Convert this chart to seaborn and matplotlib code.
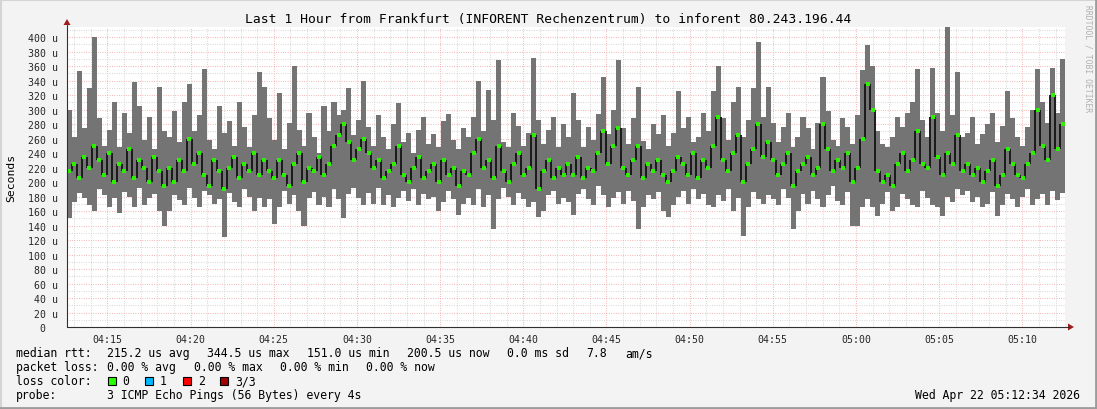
import numpy as np
import pandas as pd
import seaborn as sns
import matplotlib.pyplot as plt
from matplotlib.patches import Rectangle, Polygon
from matplotlib.lines import Line2D

W, H = 1097, 410

# time axis in minutes after 04:00, one column per 18 s
t_start = 12 + 34 / 60
step = 0.3

rtt_max = [300, 262, 353, 275, 330, 400, 288, 250, 272, 310, 248, 295, 268, 338, 305, 258, 290, 246, 331, 270,
           262, 298, 255, 310, 335, 270, 292, 356, 258, 245, 305, 268, 284, 250, 310, 276, 248, 292, 352, 331,
           288, 258, 323, 246, 282, 360, 272, 250, 295, 262, 240, 305, 270, 310, 292, 300, 330, 265, 285, 339,
           276, 250, 292, 262, 245, 280, 309, 255, 268, 240, 272, 290, 252, 266, 248, 284, 294, 258, 246, 275,
           262, 290, 339, 270, 327, 285, 368, 255, 248, 296, 278, 250, 268, 371, 286, 252, 272, 290, 248, 280,
           262, 323, 285, 248, 276, 258, 294, 345, 266, 300, 368, 275, 252, 288, 331, 256, 245, 280, 266, 292,
           250, 268, 326, 274, 290, 255, 262, 296, 270, 326, 360, 288, 258, 310, 331, 262, 285, 330, 393, 290,
           331, 282, 255, 276, 296, 248, 262, 290, 274, 246, 282, 345, 298, 258, 250, 288, 276, 252, 292, 354,
           389, 360, 270, 252, 248, 262, 290, 276, 295, 310, 356, 285, 262, 357, 296, 270, 414, 292, 352, 262,
           268, 290, 252, 266, 280, 295, 255, 278, 325, 288, 262, 250, 276, 300, 356, 310, 282, 357, 296, 370]
rtt_min = [150, 172, 185, 178, 168, 160, 190, 182, 165, 178, 158, 186, 180, 165, 192, 168, 178, 184, 160, 139,
           160, 182, 175, 168, 192, 178, 165, 188, 182, 170, 176, 124, 185, 172, 165, 190, 180, 160, 178, 165,
           176, 142, 165, 188, 170, 182, 160, 139, 178, 186, 168, 180, 165, 190, 176, 150, 184, 192, 178, 168,
           185, 170, 192, 168, 182, 165, 178, 188, 174, 190, 168, 184, 176, 180, 160, 172, 188, 176, 155, 170,
           178, 168, 190, 165, 182, 135, 176, 192, 180, 168, 185, 176, 165, 172, 152, 160, 182, 188, 170, 178,
           172, 155, 184, 190, 176, 168, 194, 182, 165, 178, 186, 170, 188, 174, 135, 165, 182, 176, 186, 160,
           152, 168, 180, 188, 170, 190, 176, 184, 168, 165, 182, 174, 190, 160, 178, 126, 165, 186, 176, 170,
           182, 176, 168, 190, 178, 135, 160, 184, 170, 188, 176, 165, 182, 194, 174, 168, 186, 140, 139, 165,
           176, 165, 153, 170, 186, 160, 165, 184, 176, 168, 165, 188, 178, 168, 165, 153, 180, 172, 190, 182,
           188, 172, 180, 165, 170, 186, 153, 168, 184, 176, 165, 180, 190, 168, 176, 184, 168, 188, 175, 185]
rtt_median = [215, 225, 205, 235, 220, 250, 230, 210, 240, 200, 225, 215, 245, 205, 230, 220, 200, 235, 215, 195,
              220, 200, 230, 215, 260, 225, 240, 210, 195, 230, 215, 190, 220, 235, 205, 225, 215, 240, 210, 230,
              215, 205, 230, 210, 195, 225, 240, 200, 220, 215, 235, 210, 225, 250, 265, 280, 255, 230, 245, 260,
              240, 220, 230, 205, 215, 225, 250, 210, 200, 220, 235, 205, 215, 225, 200, 230, 210, 220, 195, 215,
              210, 240, 260, 220, 230, 205, 250, 215, 200, 225, 240, 210, 220, 265, 190, 215, 230, 205, 220, 210,
              225, 210, 235, 205, 220, 215, 240, 270, 225, 250, 275, 220, 210, 230, 250, 205, 225, 215, 230, 210,
              200, 215, 235, 225, 210, 240, 205, 230, 220, 250, 290, 230, 215, 240, 265, 200, 225, 245, 280, 235,
              255, 230, 210, 225, 240, 195, 215, 225, 235, 210, 220, 280, 245, 215, 230, 220, 240, 200, 220, 260,
              335, 300, 215, 200, 210, 195, 225, 240, 215, 230, 270, 225, 220, 290, 235, 210, 240, 225, 265, 215,
              225, 210, 220, 200, 215, 230, 195, 210, 245, 225, 210, 205, 225, 240, 300, 250, 230, 320, 245, 280]

x_ticks = [15, 20, 25, 30, 35, 40, 45, 50, 55, 60, 65, 70]
x_labels = ['04:15', '04:20', '04:25', '04:30', '04:35', '04:40',
            '04:45', '04:50', '04:55', '05:00', '05:05', '05:10']
y_ticks = list(range(0, 401, 20))
y_labels = ['0  '] + [f'{v} u' for v in y_ticks[1:]]

n = len(rtt_median)
df = pd.DataFrame({'t': t_start + step * (np.arange(n) + 0.5),
                   'lo': rtt_min, 'hi': rtt_max, 'med': rtt_median})

sns.set_theme(style='white')
plt.rcParams['font.family'] = ['DejaVu Sans Mono']
plt.rcParams['text.color'] = '#000000'

bg = '#f3f3f3'
fig = plt.figure(figsize=(W / 100, H / 100), dpi=100, facecolor=bg)
ax = fig.add_axes([67 / W, 1 - 328 / H, 998 / W, 300 / H])
ax.set_facecolor('white')

# smoke
ax.bar(df['t'], df['hi'] - df['lo'], bottom=df['lo'], width=step * 1.02,
       color='#747474', linewidth=0, zorder=2)
# median trace: dark vertical joins, green loss-colour marks
edges = df['t'].values[1:] - step / 2
ax.vlines(edges, df['med'].values[:-1], df['med'].values[1:], color='#1a1a1a', lw=1.4, zorder=3)
sns.scatterplot(data=df, x='t', y='med', ax=ax, color='#2cf000', marker='s',
                s=5, linewidth=0, zorder=4)

ax.set_xlim(t_start, t_start + 60)
ax.set_ylim(0, 414)
ax.set_xticks(x_ticks)
ax.set_xticklabels(x_labels)
ax.set_xticks(np.arange(13, 73, 1), minor=True)
ax.set_yticks(y_ticks)
ax.set_yticklabels(y_labels)
ax.set_yticks(np.arange(10, 414, 20), minor=True)
ax.set_xlabel('')
ax.set_ylabel('')
ax.set_axisbelow(True)
ax.grid(which='major', color='#f2a8a8', lw=0.75, ls=(0, (0.75, 1.5)))
ax.grid(which='minor', color='#cfcfcf', lw=0.75, ls=(0, (0.75, 1.5)))
ax.tick_params(axis='both', which='both', length=2, width=0.7, color='#303030',
               labelsize=7.1, direction='out')
ax.tick_params(axis='x', which='major', pad=3)
ax.tick_params(axis='y', which='major', pad=4.5)
ax.tick_params(axis='both', which='minor', length=1)
for s in ax.spines.values():
    s.set_visible(False)

def px(x, y):
    return x / W, 1 - y / H

# axis lines with arrows
fig.add_artist(Line2D([67 / W, 67 / W], [1 - 328 / H, 1 - 26 / H], color='#303030', lw=0.8))
fig.add_artist(Line2D([67 / W, 1069 / W], [1 - 328 / H, 1 - 328 / H], color='#303030', lw=0.8))
arrow = '#a01c1c'
fig.add_artist(Polygon([px(63.5, 26), px(70.5, 26), px(67, 20)], closed=True, color=arrow, lw=0))
fig.add_artist(Polygon([px(1068, 324.5), px(1068, 331.5), px(1074, 328)], closed=True, color=arrow, lw=0))

# frame
fig.add_artist(Line2D([0, 1], [1 - 0.5 / H] * 2, color='#d4d4d4', lw=1.5))
fig.add_artist(Line2D([0.5 / W] * 2, [0, 1], color='#d4d4d4', lw=1.5))
fig.add_artist(Line2D([0, 1], [1.2 / H] * 2, color='#9c9c9c', lw=2))
fig.add_artist(Line2D([1 - 1.2 / W] * 2, [0, 1], color='#9c9c9c', lw=2))

# texts
fig.text(*px(548, 19), 'Last 1 Hour from Frankfurt (INFORENT Rechenzentrum) to inforent 80.243.196.44',
         ha='center', va='center', fontsize=9.4)
fig.text(*px(11, 178), 'Seconds', ha='center', va='center', rotation=90, fontsize=8.2)
fig.text(*px(1088, 5), 'RRDTOOL / TOBI OETIKER', ha='center', va='top', rotation=270,
         fontsize=5.8, color='#b0b0b0')

fs = 8.3
row1 = [(16, 'median rtt:'), (107, '215.2 us avg'), (207, '344.5 us max'), (307, '151.0 us min'),
        (407, '200.5 us now'), (507, '0.0 ms sd'), (586, '7.8'), (625, 'am/s')]
row2 = [(16, 'packet loss:'), (107, '0.00 % avg'), (193.5, '0.00 % max'), (280, '0.00 % min'),
        (366.5, '0.00 % now')]
row3 = [(16, 'loss color:'), (122, '0'), (160, '1'), (198, '2'), (235, '3/3')]
row4 = [(16, 'probe:'), (107, '3 ICMP Echo Pings (56 Bytes) every 4s')]
for y, row in [(354, row1), (368, row2), (382, row3), (396, row4)]:
    for x, s in row:
        fig.text(*px(x, y), s, ha='left', va='center', fontsize=fs)

loss_colors = ['#26ff00', '#00b8ff', '#ff0000', '#a00000']
for x0, c in zip([108, 145, 183, 220], loss_colors):
    fig.add_artist(Rectangle(px(x0, 386), 8 / W, 8 / H, facecolor=c, edgecolor='black', lw=0.8))

fig.text(*px(1080, 396), 'Wed Apr 22 05:12:34 2026', ha='right', va='center', fontsize=fs)

fig.savefig('out.png', dpi=100, facecolor=bg)
